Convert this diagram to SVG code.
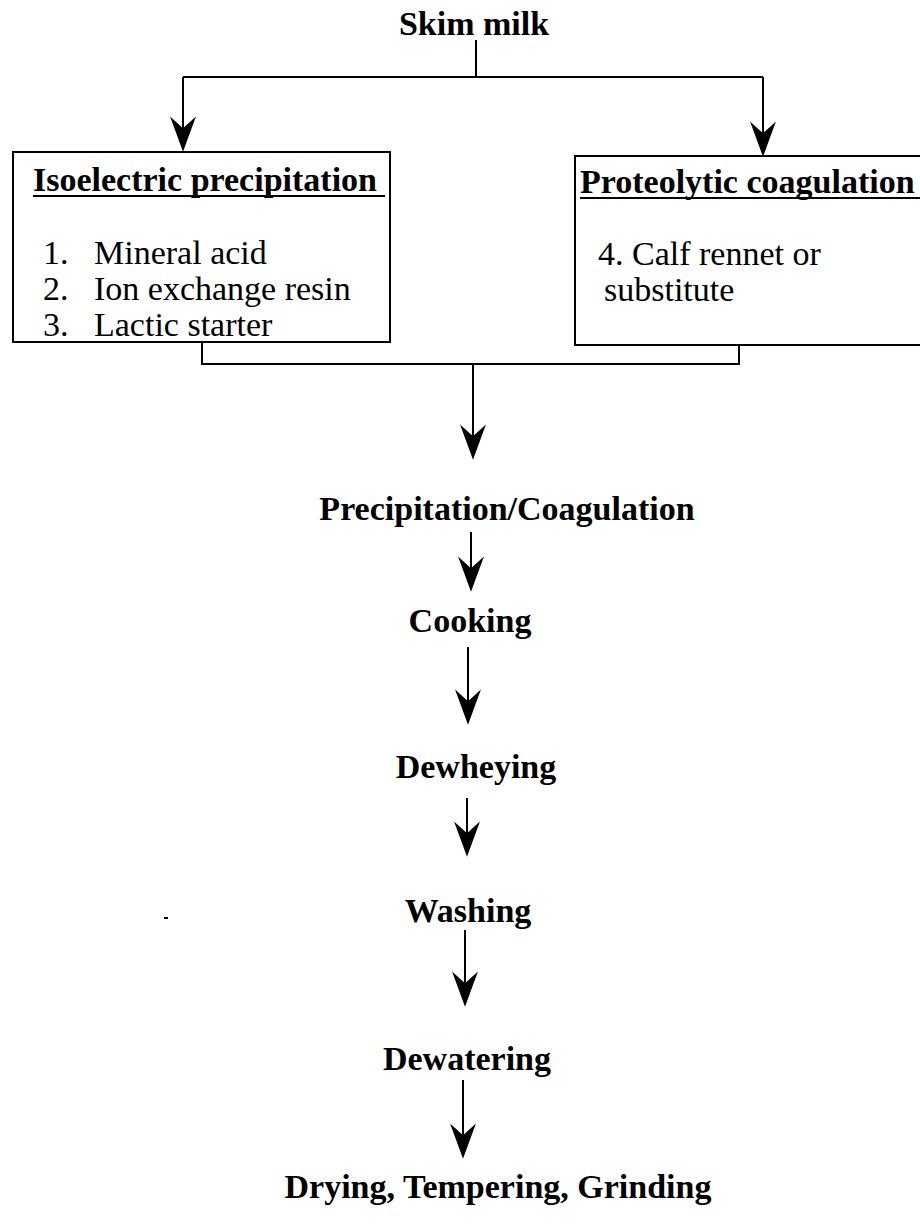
<svg xmlns="http://www.w3.org/2000/svg" width="920" height="1224" viewBox="0 0 920 1224">
<style>
.b{font-family:"Liberation Serif","Times New Roman",serif;font-weight:bold;font-size:34px;fill:#000}
.r{font-family:"Liberation Serif","Times New Roman",serif;font-size:34px;fill:#000}
.ln{stroke:#000;stroke-width:2;fill:none}
.box{stroke:#000;stroke-width:2;fill:#fff}
</style>
<defs>
<marker id="ah" markerUnits="userSpaceOnUse" markerWidth="40" markerHeight="30" viewBox="-22 -12 34 24" refX="0" refY="0" orient="auto">
<path d="M10,0 L-20,-11 L-10,0 L-20,11 Z" fill="#000"/>
</marker>
</defs>
<rect width="920" height="1224" fill="#fff"/>
<g id="connectors">
<path class="ln" d="M476,40 V77"/>
<path class="ln" d="M183,77 H763"/>
<path class="ln" d="M183,77 V140" marker-end="url(#ah)"/>
<path class="ln" d="M763,77 V145" marker-end="url(#ah)"/>
<path class="ln" d="M202,342 V364 H739 V345"/>
<path class="ln" d="M473,364 V448" marker-end="url(#ah)"/>
<path class="ln" d="M471,532 V580" marker-end="url(#ah)"/>
<path class="ln" d="M468,647 V713" marker-end="url(#ah)"/>
<path class="ln" d="M467,798 V845" marker-end="url(#ah)"/>
<path class="ln" d="M465,930 V995" marker-end="url(#ah)"/>
<path class="ln" d="M463,1080 V1147" marker-end="url(#ah)"/>
</g>
<g id="skim-milk">
<text class="b" x="474" y="35" font-size="35" text-anchor="middle">Skim milk</text>
</g>
<g id="isoelectric">
<rect class="box" x="13" y="152" width="377" height="190"/>
<text class="b" x="33" y="191" font-size="35">Isoelectric precipitation</text>
<line class="ln" x1="33" y1="196" x2="385" y2="196"/>
<text class="r" x="43" y="264">1.</text>
<text class="r" x="94" y="264">Mineral acid</text>
<text class="r" x="43" y="300">2.</text>
<text class="r" x="94" y="300">Ion exchange resin</text>
<text class="r" x="43" y="336">3.</text>
<text class="r" x="94" y="336">Lactic starter</text>
</g>
<g id="proteolytic">
<rect class="box" x="575" y="156" width="360" height="189"/>
<text class="b" x="580" y="193" font-size="35">Proteolytic coagulation</text>
<line class="ln" x1="580" y1="198" x2="925" y2="198"/>
<text class="r" x="598" y="265" font-size="33">4. Calf rennet or</text>
<text class="r" x="604" y="301" font-size="33">substitute</text>
</g>
<g id="precipitation">
<text class="b" x="507" y="520" font-size="33" text-anchor="middle">Precipitation/Coagulation</text>
</g>
<g id="cooking">
<text class="b" x="470" y="632" text-anchor="middle">Cooking</text>
</g>
<g id="dewheying">
<text class="b" x="476" y="778" text-anchor="middle">Dewheying</text>
</g>
<g id="washing">
<text class="b" x="468" y="922" text-anchor="middle">Washing</text>
</g>
<g id="dewatering">
<text class="b" x="467" y="1070" text-anchor="middle">Dewatering</text>
</g>
<g id="drying">
<text class="b" x="498" y="1198" font-size="32" text-anchor="middle">Drying, Tempering, Grinding</text>
</g>
<rect x="164" y="917" width="4" height="2" fill="#000"/>
</svg>
